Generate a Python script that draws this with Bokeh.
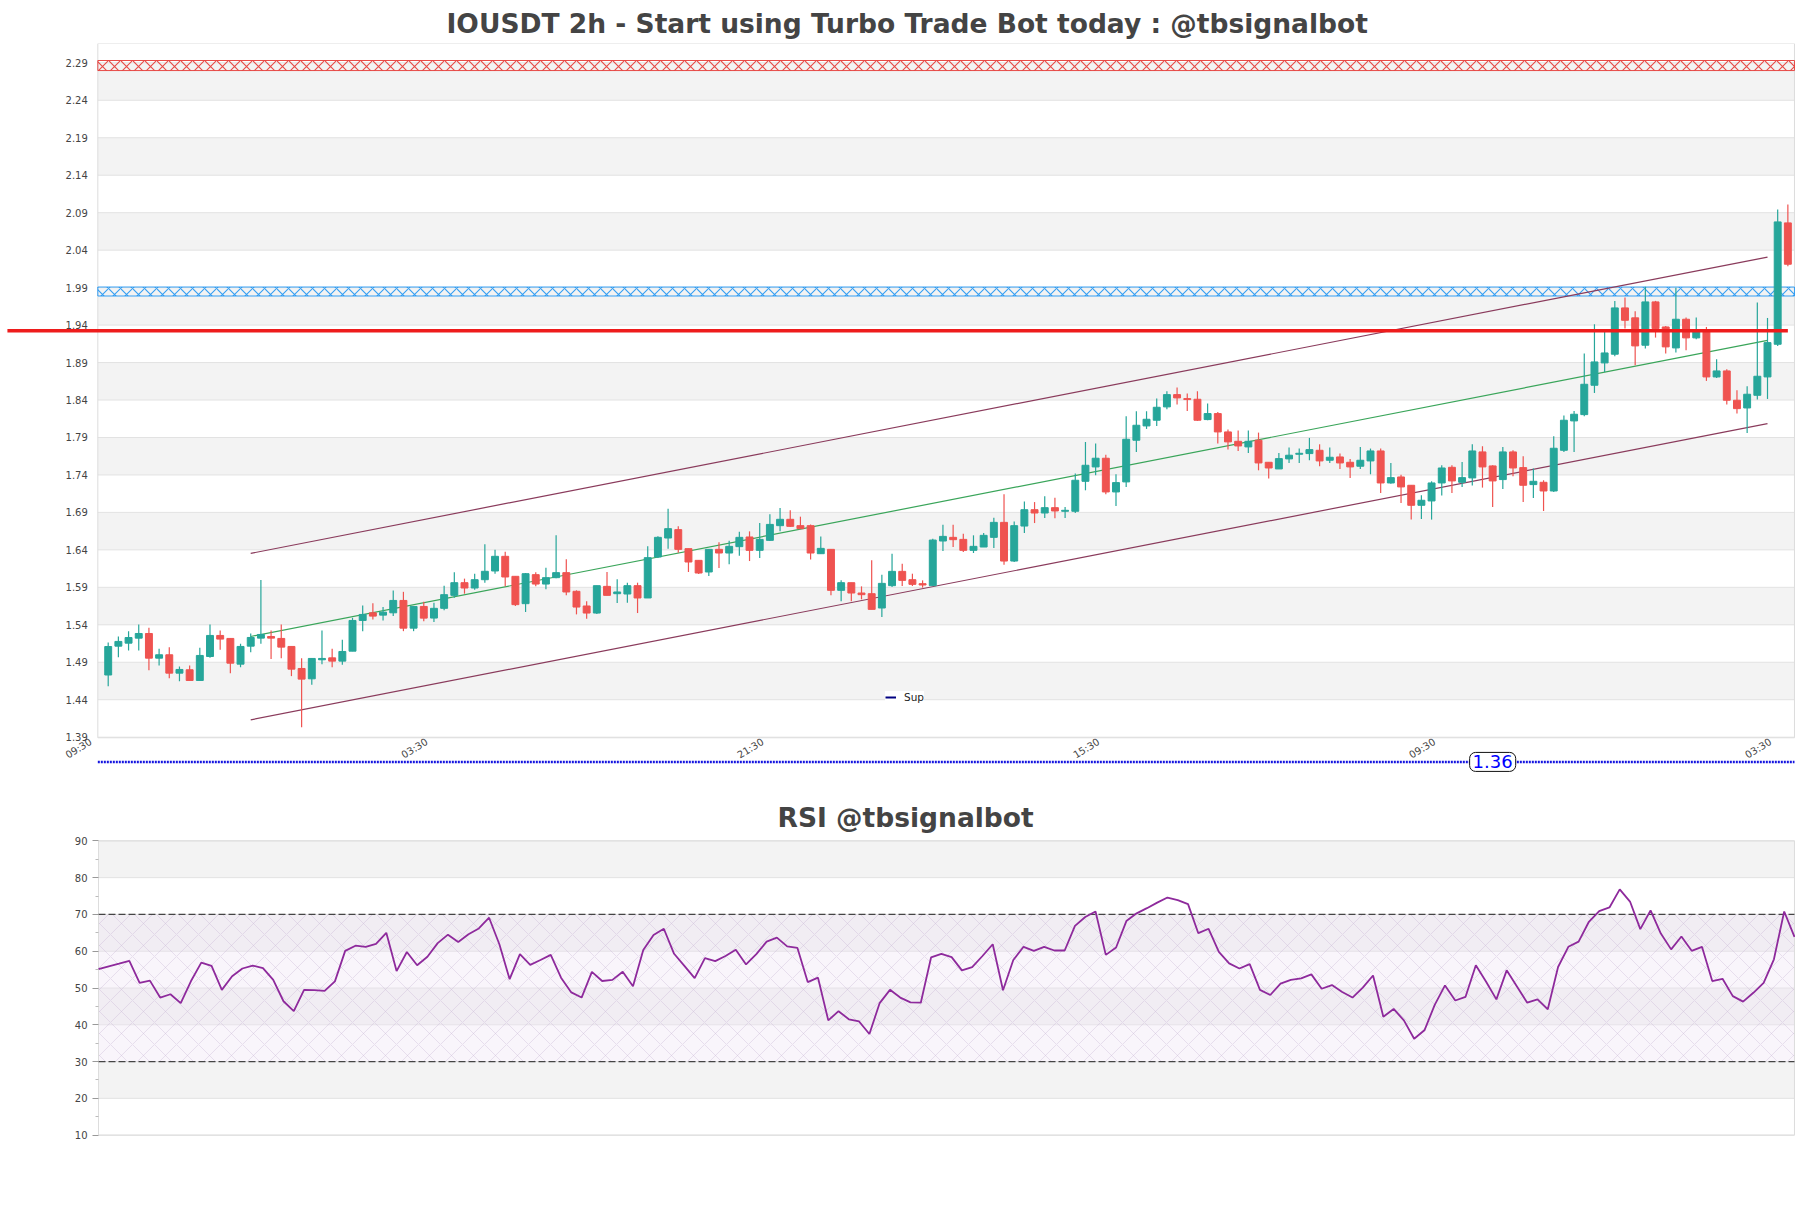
from bokeh.plotting import figure
from bokeh.layouts import column
from bokeh.models import (Range1d, FixedTicker, Label, ColumnDataSource, Legend, LegendItem,
                          PrintfTickFormatter, LinearAxis)
from bokeh.embed import file_html
from bokeh.resources import INLINE

# ---------------- data ----------------
OPEN = [1.473, 1.5115, 1.5155, 1.5222, 1.5284, 1.4955, 1.500, 1.4755, 1.480, 1.4657,
        1.4977, 1.5258, 1.5218, 1.4875, 1.5115, 1.5222, 1.5244, 1.5218, 1.5111, 1.4817,
        1.4679, 1.4933, 1.4959, 1.4915, 1.5048, 1.5458, 1.556, 1.5529, 1.556, 1.5725,
        1.5355, 1.5645, 1.549, 1.562, 1.5793, 1.5962, 1.5891, 1.6002, 1.6118, 1.6314,
        1.6047, 1.5682, 1.6069, 1.5944, 1.6029, 1.6096, 1.5847, 1.5651, 1.5557, 1.5913,
        1.5815, 1.5811, 1.5922, 1.5758, 1.6305, 1.6558, 1.667, 1.6416, 1.626, 1.6105,
        1.6407, 1.6358, 1.6443, 1.6572, 1.6394, 1.6527, 1.6723, 1.6808, 1.6723, 1.6723,
        1.6349, 1.6407, 1.586, 1.5962, 1.5824, 1.5815, 1.5624, 1.5922, 1.6113, 1.6002,
        1.5949, 1.5922, 1.6518, 1.6567, 1.654, 1.6394, 1.6438, 1.6567, 1.6767, 1.6251,
        1.6718, 1.6936, 1.6892, 1.6963, 1.6915, 1.6915, 1.7315, 1.7507, 1.7623, 1.7173,
        1.7307, 1.7863, 1.8054, 1.813, 1.8308, 1.8472, 1.8419, 1.841, 1.8139, 1.8219,
        1.7974, 1.7849, 1.7774, 1.7863, 1.7569, 1.748, 1.7614, 1.7676, 1.7685, 1.7729,
        1.7596, 1.764, 1.7569, 1.7516, 1.7587, 1.772, 1.7293, 1.7373, 1.7262, 1.6995,
        1.7053, 1.7293, 1.7502, 1.7302, 1.736, 1.7707, 1.752, 1.7338, 1.7707, 1.7498,
        1.7271, 1.7302, 1.7186, 1.7729, 1.8121, 1.8205, 1.8597, 1.8895, 1.9011, 1.9629,
        1.9497, 1.9131, 1.9709, 1.9375, 1.9095, 1.9478, 1.9229, 1.9331, 1.8708, 1.8788,
        1.8397, 1.8294, 1.8463, 1.8708, 1.9144, 2.0764]
HIGH = [1.5164, 1.5244, 1.5315, 1.5404, 1.536, 1.508, 1.5102, 1.4844, 1.4857, 1.5093,
        1.5404, 1.5324, 1.5218, 1.5147, 1.5284, 1.5999, 1.5324, 1.5404, 1.5111, 1.4955,
        1.4951, 1.5324, 1.508, 1.520, 1.5493, 1.5658, 1.5689, 1.5636, 1.5858, 1.584,
        1.5645, 1.5707, 1.5695, 1.5922, 1.610, 1.6016, 1.6082, 1.6474, 1.6403, 1.6376,
        1.6047, 1.6091, 1.610, 1.6163, 1.6594, 1.6274, 1.586, 1.5713, 1.5922, 1.6105,
        1.6007, 1.5962, 1.5962, 1.6447, 1.6581, 1.695, 1.6714, 1.6416, 1.626, 1.6407,
        1.6501, 1.6523, 1.6643, 1.6647, 1.6758, 1.6874, 1.6959, 1.6928, 1.6843, 1.6737,
        1.658, 1.6407, 1.5993, 1.5962, 1.5913, 1.626, 1.6069, 1.6349, 1.6216, 1.6082,
        1.5993, 1.6549, 1.6736, 1.6736, 1.6616, 1.6594, 1.6625, 1.683, 1.7141, 1.678,
        1.7047, 1.7038, 1.7114, 1.7096, 1.6973, 1.7418, 1.784, 1.7818, 1.7671, 1.7409,
        1.8183, 1.825, 1.825, 1.8419, 1.8517, 1.8566, 1.8486, 1.8517, 1.8352, 1.8241,
        1.8005, 1.7992, 1.7992, 1.7965, 1.7569, 1.7694, 1.7765, 1.7752, 1.7894, 1.7809,
        1.7765, 1.7685, 1.7614, 1.7774, 1.7752, 1.7752, 1.756, 1.7404, 1.7262, 1.7129,
        1.7315, 1.7529, 1.7529, 1.7573, 1.7809, 1.7783, 1.7529, 1.7774, 1.7729, 1.7649,
        1.7485, 1.7329, 1.7916, 1.8192, 1.8255, 1.902, 1.9411, 1.9331, 1.9723, 1.9767,
        1.9585, 1.991, 1.9723, 1.9389, 1.9898, 1.95, 1.95, 1.9375, 1.8944, 1.881,
        1.853, 1.8583, 1.97, 1.9495, 2.0942, 2.1009]
LOW = [1.458, 1.4968, 1.5057, 1.5057, 1.4795, 1.4857, 1.4688, 1.4648, 1.4657, 1.4657,
       1.4959, 1.5066, 1.4755, 1.4835, 1.5035, 1.5146, 1.4942, 1.4955, 1.4715, 1.4034,
       1.4599, 1.4875, 1.4835, 1.4866, 1.5048, 1.5315, 1.5471, 1.5458, 1.5516, 1.5315,
       1.5315, 1.5449, 1.5437, 1.5593, 1.5762, 1.5815, 1.5869, 1.5962, 1.6082, 1.5913,
       1.5651, 1.5571, 1.5913, 1.5873, 1.602, 1.5793, 1.5539, 1.5482, 1.5544, 1.5793,
       1.5691, 1.5695, 1.5557, 1.5758, 1.6292, 1.6416, 1.6363, 1.6105, 1.6078, 1.6051,
       1.6158, 1.6207, 1.6323, 1.6251, 1.6291, 1.6518, 1.6647, 1.6705, 1.6683, 1.6273,
       1.6349, 1.5793, 1.5713, 1.5713, 1.574, 1.5606, 1.5504, 1.5904, 1.5918, 1.5918,
       1.5896, 1.5922, 1.6385, 1.6438, 1.6371, 1.6358, 1.6438, 1.6425, 1.6202, 1.6238,
       1.6625, 1.6758, 1.6825, 1.6821, 1.6826, 1.6893, 1.7195, 1.7396, 1.7142, 1.6986,
       1.724, 1.7707, 1.8014, 1.8054, 1.8277, 1.8339, 1.8254, 1.8121, 1.813, 1.7818,
       1.7738, 1.772, 1.7694, 1.7462, 1.7351, 1.748, 1.756, 1.756, 1.7596, 1.7516,
       1.756, 1.748, 1.736, 1.748, 1.7409, 1.716, 1.7284, 1.7026, 1.6804, 1.6813,
       1.6804, 1.7124, 1.716, 1.724, 1.7258, 1.7231, 1.6973, 1.7213, 1.7382, 1.704,
       1.7093, 1.6919, 1.7173, 1.7707, 1.7707, 1.8183, 1.8494, 1.8775, 1.8984, 1.9353,
       1.8864, 1.9086, 1.9233, 1.902, 1.9033, 1.9064, 1.9211, 1.8655, 1.8695, 1.8339,
       1.8219, 1.796, 1.8406, 1.8414, 1.9122, 2.0185]
CLOSE = [1.511, 1.5178, 1.523, 1.5284, 1.4955, 1.500, 1.4755, 1.4804, 1.4657, 1.4991,
         1.5258, 1.5209, 1.4888, 1.5111, 1.5231, 1.5271, 1.5222, 1.5102, 1.4808, 1.4675,
         1.4951, 1.4951, 1.4915, 1.5044, 1.5458, 1.5538, 1.5516, 1.5569, 1.5725, 1.5355,
         1.5645, 1.5489, 1.562, 1.5802, 1.5962, 1.5891, 1.6002, 1.6114, 1.6314, 1.6038,
         1.5669, 1.6082, 1.5944, 1.6029, 1.6096, 1.5838, 1.5637, 1.5557, 1.5922, 1.5793,
         1.5838, 1.5922, 1.5758, 1.6296, 1.6567, 1.6683, 1.6407, 1.6238, 1.6091, 1.6407,
         1.6358, 1.6447, 1.6567, 1.6394, 1.654, 1.674, 1.6808, 1.6714, 1.6683, 1.6358,
         1.642, 1.586, 1.5962, 1.5824, 1.5802, 1.5606, 1.5953, 1.6113, 1.5993, 1.594,
         1.5931, 1.6531, 1.658, 1.6536, 1.6394, 1.6447, 1.6594, 1.6767, 1.6251, 1.6723,
         1.6936, 1.6892, 1.6963, 1.6919, 1.6928, 1.7329, 1.7529, 1.7623, 1.7173, 1.7298,
         1.7876, 1.8063, 1.8143, 1.8303, 1.8472, 1.8428, 1.8406, 1.813, 1.8219, 1.7974,
         1.7841, 1.7787, 1.7849, 1.756, 1.7493, 1.7618, 1.7663, 1.7689, 1.7738, 1.7587,
         1.7636, 1.756, 1.7507, 1.7596, 1.772, 1.7293, 1.7364, 1.724, 1.6995, 1.7062,
         1.7293, 1.7493, 1.732, 1.7364, 1.772, 1.7507, 1.732, 1.7707, 1.7493, 1.7262,
         1.7315, 1.7186, 1.7756, 1.813, 1.821, 1.861, 1.8908, 1.9028, 1.9629, 1.9464,
         1.9122, 1.9709, 1.9353, 1.9109, 1.9478, 1.9229, 1.9331, 1.8708, 1.8788, 1.8397,
         1.8285, 1.8477, 1.8717, 1.9166, 2.0777, 2.0212]
RSI = [55.1, 55.9, 56.6, 57.35, 51.4, 52.0, 47.4, 48.3, 45.9, 51.9,
       56.9, 56.0, 49.5, 53.2, 55.3, 56.1, 55.4, 52.2, 46.4, 43.7,
       49.5, 49.4, 49.2, 51.8, 60.1, 61.5, 61.2, 62.0, 65.0, 54.6,
       59.8, 56.2, 58.5, 62.2, 64.5, 62.5, 64.6, 66.2, 69.1, 61.9,
       52.4, 59.2, 56.3, 57.6, 59.0, 52.8, 48.8, 47.4, 54.4, 51.9,
       52.2, 54.4, 50.5, 60.3, 64.4, 66.1, 59.3, 56.0, 52.7, 58.1,
       57.3, 58.7, 60.4, 56.4, 59.2, 62.6, 63.7, 61.3, 60.9, 51.6,
       52.8, 41.2, 43.7, 41.5, 40.9, 37.5, 45.9, 49.5, 47.4, 46.1,
       46.0, 58.3, 59.3, 58.4, 54.8, 55.7, 58.7, 61.9, 49.4, 57.6,
       61.2, 60.1, 61.2, 60.2, 60.2, 66.9, 69.3, 70.8, 59.0, 61.0,
       68.2, 70.3, 71.7, 73.2, 74.6, 73.9, 72.8, 64.9, 66.1, 59.8,
       56.7, 55.3, 56.5, 49.5, 48.1, 51.2, 52.2, 52.6, 53.7, 49.8,
       50.8, 48.9, 47.4, 50.1, 53.4, 42.2, 44.3, 41.2, 36.2, 38.5,
       45.4, 50.7, 46.6, 47.6, 56.2, 51.7, 46.9, 54.8, 50.4, 46.0,
       46.9, 44.2, 55.7, 61.2, 62.6, 68.0, 70.9, 71.9, 76.8, 73.5,
       66.0, 71.1, 64.8, 60.5, 64.0, 60.1, 61.2, 51.9, 52.5, 47.8,
       46.3, 48.7, 51.4, 57.8, 70.8, 63.9]

X_TICKS = [-1, 32, 65, 98, 131, 164]
X_LABELS = ["09:30", "03:30", "21:30", "15:30", "09:30", "03:30"]
Y_TICKS = [1.39, 1.44, 1.49, 1.54, 1.59, 1.64, 1.69, 1.74, 1.79, 1.84,
           1.89, 1.94, 1.99, 2.04, 2.09, 2.14, 2.19, 2.24, 2.29]
RSI_TICKS = [10, 20, 30, 40, 50, 60, 70, 80, 90]
RSI_MINOR = [15, 25, 35, 45, 55, 65, 75, 85]

CHANNEL_X = [14, 163]
CHANNEL_UPPER = [1.6353, 2.0308]
CHANNEL_MID = [1.5244, 1.9196]
CHANNEL_LOWER = [1.4132, 1.8084]

RES_ZONE = [2.2797, 2.2931]
MID_ZONE = [1.9788, 1.9908]
KEY_LEVEL = 1.9325
KEY_LEVEL_FROM = -9.9
SUP_LEVEL = 1.357
SUP_TEXT = "1.36"
SUP_LABEL_AT = 136
RSI_LOW, RSI_HIGH = 30, 70

TITLE = "IOUSDT 2h - Start using Turbo Trade Bot today : @tbsignalbot"
RSI_TITLE = "RSI @tbsignalbot"

UP_COLOR = "#26a69a"
DOWN_COLOR = "#ef5350"
BAND = "#f3f3f3"
GRID = "#e2e2e2"
BORDER = "#dddddd"
FONT = "DejaVu Sans"
W = 1795

# price panel borders (data units) and visible extent (incl. label gutter / support row)
X0, X1 = -1.02, 165.65
Y0, Y1 = 1.3892, 2.3158
VIEW_X = (-10.58, 165.75)
VIEW_Y = (1.3322, 2.3158)
LABEL_SHIFT = 0.7               # time labels sit slightly left of their candle slot
# RSI panel borders and visible extent
RX0, RX1 = 0, 165
RSI_VIEW_X = (-9.534, 165.1)
RSI_VIEW_Y = (8, 92)

# ---------------- main chart ----------------
n = len(CLOSE)
idx = list(range(n))
colors = [UP_COLOR if c >= o else DOWN_COLOR for o, c in zip(OPEN, CLOSE)]
src = ColumnDataSource(dict(
    x=idx, high=HIGH, low=LOW,
    top=[max(o, c) for o, c in zip(OPEN, CLOSE)],
    bottom=[min(o, c) for o, c in zip(OPEN, CLOSE)],
    color=colors))

p = figure(width=W, height=780, x_range=Range1d(*VIEW_X), y_range=Range1d(*VIEW_Y),
           output_backend="svg", toolbar_location=None, x_axis_location=None,
           min_border_left=0, min_border_right=0, min_border_top=43, min_border_bottom=0)
p.extra_x_ranges = {"labels": Range1d(VIEW_X[0] + LABEL_SHIFT, VIEW_X[1] + LABEL_SHIFT)}
p.title.text = TITLE
p.title.text_font = FONT
p.title.text_font_style = "bold"
p.title.text_font_size = "26.5px"
p.title.text_color = "#444444"
p.title.align = "left"
p.title.offset = 446
p.title.standoff = 9

p.outline_line_color = None
p.xgrid.visible = False
p.ygrid.visible = False

# bands + grid lines limited to the price panel
p.quad(left=X0, right=X1, bottom=Y_TICKS[1:-1:2], top=Y_TICKS[2::2], fill_color=BAND, line_color=None)
p.segment(x0=X0, x1=X1, y0=Y_TICKS, y1=Y_TICKS, line_color=GRID, line_width=1)
p.quad(left=[X0], right=[X1], bottom=[Y0], top=[Y1], fill_alpha=0, line_color=BORDER, line_width=1)

p.yaxis.fixed_location = X0
p.yaxis.ticker = FixedTicker(ticks=Y_TICKS)
p.yaxis.formatter = PrintfTickFormatter(format="%.2f")
p.yaxis.major_label_text_font = FONT
p.yaxis.major_label_text_font_size = "10px"
p.yaxis.major_label_text_color = "#444444"
p.yaxis.axis_line_color = None
p.yaxis.major_tick_line_color = None
p.yaxis.minor_tick_line_color = None
p.yaxis.major_tick_out = 0
p.yaxis.minor_tick_out = 0
p.yaxis.major_label_standoff = 10

xaxis = LinearAxis(x_range_name="labels", fixed_location=Y0,
                   ticker=FixedTicker(ticks=X_TICKS),
                   major_label_overrides={t: s for t, s in zip(X_TICKS, X_LABELS)},
                   major_label_orientation=0.55, major_label_text_font=FONT,
                   major_label_text_font_size="10px", major_label_text_color="#444444",
                   axis_line_color=None, major_tick_line_color=None, minor_tick_line_color=None,
                   major_tick_out=0, minor_tick_out=0, major_label_standoff=3)
p.add_layout(xaxis, "below")

# hatched zones
for zone, col in ((RES_ZONE, "#e53935"), (MID_ZONE, "#2196f3")):
    p.quad(left=[X0], right=[X1], bottom=[zone[0]], top=[zone[1]], fill_alpha=0.0,
           line_color=col, line_width=1, line_alpha=0.9,
           hatch_pattern="diagonal_cross", hatch_color=col,
           hatch_scale=12, hatch_weight=1.1, hatch_alpha=0.9)

# channel
p.line(CHANNEL_X, CHANNEL_UPPER, line_color="#8a3b5c", line_width=1.2)
p.line(CHANNEL_X, CHANNEL_LOWER, line_color="#8a3b5c", line_width=1.2)
p.line(CHANNEL_X, CHANNEL_MID, line_color="#3aa55a", line_width=1.2)

# candles
p.segment(x0="x", y0="high", x1="x", y1="low", line_color="color", line_width=1.2, source=src)
p.vbar(x="x", width=0.68, top="top", bottom="bottom", fill_color="color", line_color="color",
       line_width=1, source=src)

# key level
p.line([KEY_LEVEL_FROM, n - 1], [KEY_LEVEL, KEY_LEVEL], line_color="#ee1c1c", line_width=3.5)

# support (below the price panel)
p.line([X0, X1], [SUP_LEVEL, SUP_LEVEL], line_color="#1515e0", line_dash="2 1", line_width=2.5)
p.add_layout(Label(x=SUP_LABEL_AT, y=SUP_LEVEL, text=SUP_TEXT, text_align="center",
                   text_baseline="middle", text_color="#0000ff", text_font=FONT,
                   text_font_size="18px", border_line_color="#111111", border_line_width=1,
                   background_fill_color="white", border_radius=6, padding=3))
r_sup = p.line(x=[SUP_LABEL_AT], y=[SUP_LEVEL], line_color="#000080", line_width=2)
legend = Legend(items=[LegendItem(label="Sup", renderers=[r_sup])], location=(885, 77),
                border_line_color=None, background_fill_color="white", background_fill_alpha=1,
                label_text_font=FONT, label_text_font_size="10.5px", label_text_color="#222222",
                glyph_width=11, glyph_height=8, label_standoff=8, padding=5, margin=0,
                label_height=10)
p.add_layout(legend)

# ---------------- RSI chart ----------------
r = figure(width=W, height=400, x_range=Range1d(*RSI_VIEW_X), y_range=Range1d(*RSI_VIEW_Y),
           output_backend="svg", toolbar_location=None,
           min_border_left=0, min_border_right=0, min_border_top=53, min_border_bottom=38)
r.title.text = RSI_TITLE
r.title.text_font = FONT
r.title.text_font_style = "bold"
r.title.text_font_size = "26.5px"
r.title.text_color = "#444444"
r.title.align = "left"
r.title.offset = 777
r.title.standoff = 1

r.outline_line_color = None
r.xaxis.visible = False
r.xgrid.visible = False
r.ygrid.visible = False

r.quad(left=RX0, right=RX1, bottom=RSI_TICKS[1:-1:2], top=RSI_TICKS[2::2], fill_color=BAND, line_color=None)
r.segment(x0=RX0, x1=RX1, y0=RSI_TICKS, y1=RSI_TICKS, line_color=GRID, line_width=1)
r.quad(left=[RX0], right=[RX1], bottom=[RSI_LOW], top=[RSI_HIGH], fill_color="#efe3f4",
       fill_alpha=0.35, line_alpha=0, hatch_pattern="diagonal_cross", hatch_color="#c8b4d4",
       hatch_alpha=0.6, hatch_scale=22, hatch_weight=0.6)
r.quad(left=[RX0], right=[RX1], bottom=[RSI_TICKS[0]], top=[RSI_TICKS[-1]], fill_alpha=0,
       line_color=BORDER, line_width=1)

r.yaxis.fixed_location = RX0
r.yaxis.ticker = FixedTicker(ticks=RSI_TICKS, minor_ticks=RSI_MINOR)
r.yaxis.major_label_text_font = FONT
r.yaxis.major_label_text_font_size = "10px"
r.yaxis.major_label_text_color = "#444444"
r.yaxis.axis_line_color = None
r.yaxis.major_tick_line_color = "#999999"
r.yaxis.minor_tick_line_color = "#bbbbbb"
r.yaxis.major_tick_in = 0
r.yaxis.major_tick_out = 6
r.yaxis.minor_tick_in = 0
r.yaxis.minor_tick_out = 3

r.segment(x0=RX0, x1=RX1, y0=[RSI_LOW, RSI_HIGH], y1=[RSI_LOW, RSI_HIGH],
          line_color="#444444", line_dash="7 3", line_width=1.2)
r.line(idx, RSI, line_color="#8e2a9c", line_width=1.8)

layout = column(p, r)
open("out.html", "w").write(file_html(layout, INLINE))
